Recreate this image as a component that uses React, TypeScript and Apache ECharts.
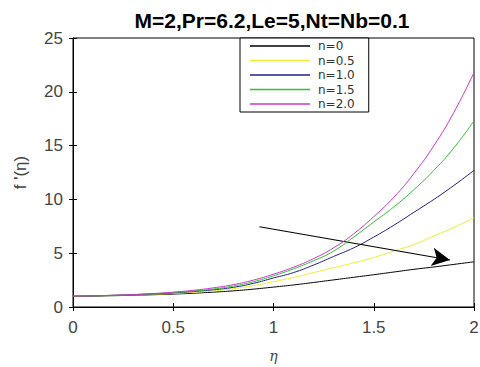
import React, { useEffect, useRef } from "react";
import * as echarts from "echarts";

const eta = [0, 0.1, 0.2, 0.3, 0.4, 0.5, 0.6, 0.7, 0.8, 0.9, 1.0, 1.1, 1.2, 1.3, 1.4, 1.5, 1.6, 1.7, 1.8, 1.9, 2.0];
const n0 = [1, 1.02, 1.05, 1.09, 1.14, 1.2, 1.28, 1.38, 1.5, 1.66, 1.85, 2.05, 2.28, 2.52, 2.76, 3.0, 3.25, 3.5, 3.72, 3.96, 4.2];
const n05 = [1, 1.03, 1.07, 1.12, 1.18, 1.26, 1.37, 1.5, 1.7, 1.98, 2.35, 2.75, 3.2, 3.65, 4.1, 4.6, 5.2, 5.8, 6.6, 7.4, 8.3];
const n10 = [1, 1.03, 1.08, 1.14, 1.21, 1.31, 1.44, 1.6, 1.83, 2.2, 2.7, 3.2, 3.9, 4.7, 5.5, 6.5, 7.6, 8.8, 10.0, 11.3, 12.7];
const n15 = [1, 1.04, 1.09, 1.15, 1.23, 1.34, 1.48, 1.67, 1.95, 2.35, 2.9, 3.55, 4.3, 5.2, 6.5, 7.9, 9.3, 10.9, 12.7, 14.8, 17.3];
const n20 = [1, 1.04, 1.09, 1.16, 1.25, 1.38, 1.55, 1.78, 2.08, 2.5, 3.05, 3.7, 4.5, 5.5, 6.8, 8.4, 10.2, 12.4, 15.0, 18.1, 21.8];

const seriesNames = ["n=0", "n=0.5", "n=1.0", "n=1.5", "n=2.0"];
const seriesData = [n0, n05, n10, n15, n20];
const seriesColors = ["#000000", "#eeee30", "#202088", "#30c030", "#c838c8"];

const arrowStart = [0.93, 7.46];
const arrowEnd = [1.88, 4.37];

const titleText = "M=2,Pr=6.2,Le=5,Nt=Nb=0.1";

export default function App() {
  const ref = useRef<HTMLDivElement>(null);
  useEffect(() => {
    const chart = echarts.init(ref.current!, null, { renderer: "svg" });
    const font = "'Liberation Sans', Arial, sans-serif";
    const series: any[] = seriesNames.map((name, i) => ({
      name,
      type: "line",
      data: eta.map((x, j) => [x, seriesData[i][j]]),
      showSymbol: false,
      smooth: true,
      lineStyle: { color: seriesColors[i], width: 1 },
      itemStyle: { color: seriesColors[i] },
      z: 2 + i,
    }));
    series.push({
      type: "line",
      data: [],
      markLine: {
        silent: true,
        symbol: ["none", "arrow"],
        symbolSize: [14, 18],
        label: { show: false },
        lineStyle: { color: "#000", width: 1.2, type: "solid" },
        data: [[{ coord: arrowStart }, { coord: arrowEnd }]],
      },
    });
    chart.setOption({
      animation: false,
      backgroundColor: "#fff",
      title: {
        text: titleText,
        left: 272,
        textAlign: "center",
        top: 9,
        padding: 0,
        textStyle: { fontFamily: font, fontSize: 21, fontWeight: "bold", color: "#000", lineHeight: 22 },
      },
      legend: {
        data: seriesNames,
        orient: "vertical",
        left: 240,
        top: 38,
        width: 133,
        padding: [2, 14, 2, 10],
        itemGap: 2.5,
        itemWidth: 60,
        itemHeight: 12,
        borderColor: "#000",
        borderWidth: 1,
        backgroundColor: "#fff",
        icon: "path://M0,5.3 L60,5.3 L60,6.7 L0,6.7 Z",
        textStyle: { fontFamily: "'DejaVu Sans', sans-serif", fontSize: 12, color: "#333", padding: [0, 0, 0, 3] },
      },
      grid: {
        left: 73, right: 6, top: 38, bottom: 60,
        outerBoundsMode: "none",
        containLabel: false,
        show: true, borderColor: "#000", borderWidth: 1, backgroundColor: "transparent",
      },
      xAxis: [
        {
          type: "value",
          min: 0,
          max: 2,
          interval: 0.5,
          name: "η",
          nameLocation: "middle",
          nameGap: 42,
          nameTextStyle: { fontFamily: "'DejaVu Serif', serif", fontStyle: "italic", fontSize: 14, color: "#444" },
          axisLine: { show: true, lineStyle: { color: "#000" } },
          axisTick: { show: true, inside: true, length: 4, lineStyle: { color: "#000" } },
          axisLabel: { fontFamily: font, fontSize: 17, color: "#444", margin: 12 },
          splitLine: { show: false },
        },
        {
          type: "value",
          position: "top",
          min: 0,
          max: 2,
          interval: 0.5,
          axisLine: { show: true, lineStyle: { color: "#000" } },
          axisTick: { show: true, inside: true, length: 4, lineStyle: { color: "#000" } },
          axisLabel: { show: false },
          splitLine: { show: false },
        },
      ],
      yAxis: [
        {
          type: "value",
          min: 0,
          max: 25,
          interval: 5,
          name: "f '(η)",
          nameLocation: "middle",
          nameGap: 44,
          nameRotate: 90,
          nameTextStyle: { fontFamily: font, fontSize: 17, color: "#444" },
          axisLine: { show: true, lineStyle: { color: "#000" } },
          axisTick: { show: true, inside: true, length: 4, lineStyle: { color: "#000" } },
          axisLabel: { fontFamily: font, fontSize: 17, color: "#444", margin: 10 },
          splitLine: { show: false },
        },
        {
          type: "value",
          position: "right",
          min: 0,
          max: 25,
          interval: 5,
          axisLine: { show: true, lineStyle: { color: "#000" } },
          axisTick: { show: true, inside: true, length: 4, lineStyle: { color: "#000" } },
          axisLabel: { show: false },
          splitLine: { show: false },
        },
      ],
      series,
    });
    return () => chart.dispose();
  }, []);
  return <div ref={ref} style={{ width: 480, height: 367, position: "absolute", left: 0, top: 0 }} />;
}
